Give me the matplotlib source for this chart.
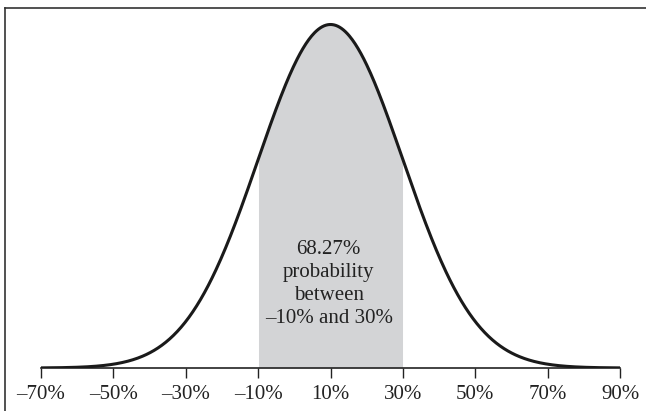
"""Normal distribution of returns with the one-sigma band shaded."""
import math

import matplotlib.pyplot as plt
from matplotlib.lines import Line2D
import numpy as np

# distribution
mean = 10.0
sd = 20.0
band_low = -10.0
band_high = 30.0
band_text = "68.27%\nprobability\nbetween\n\u201310% and 30%"
tick_values = [-70, -50, -30, -10, 10, 30, 50, 70, 90]
tick_labels = ["\u201370%", "\u201350%", "\u201330%", "\u201310%", "10%",
               "30%", "50%", "70%", "90%"]

plt.rcParams["font.family"] = ["Liberation Serif", "DejaVu Serif"]

W, H = 646, 411
fig = plt.figure(figsize=(W / 100, H / 100), dpi=100)

left_px, right_px = 41, 620
base_px, top_px, peak_px = 368, 14, 24.5
ax = fig.add_axes([left_px / W, (H - base_px) / H,
                   (right_px - left_px) / W, (base_px - top_px) / H])

x = np.linspace(tick_values[0], tick_values[-1], 600)
pdf = np.exp(-0.5 * ((x - mean) / sd) ** 2) / (sd * math.sqrt(2 * math.pi))
peak = pdf.max()

mask = (x >= band_low) & (x <= band_high)
ax.fill_between(x[mask], 0, pdf[mask], color="#d3d4d6", lw=0, zorder=1)
ax.plot(x, pdf, color="#1a1a1a", lw=2.2, solid_capstyle="butt", zorder=3)

ax.text(mean - 0.5, peak * 0.245, band_text, ha="center", va="center",
        fontsize=15, color="#222222", linespacing=1.28)

ax.set_xlim(tick_values[0], tick_values[-1])
ax.set_ylim(0, peak * (base_px - top_px) / (base_px - peak_px))
ax.set_xticks(tick_values)
ax.set_xticklabels(tick_labels, fontsize=15, color="#222222")
ax.set_yticks([])
ax.tick_params(axis="x", direction="out", length=7, width=1,
               color="#222222", pad=5)
for side in ["left", "right", "top"]:
    ax.spines[side].set_visible(False)
ax.spines["bottom"].set_color("#222222")
ax.spines["bottom"].set_linewidth(1.2)

# frame lines at the left and top of the figure
fig.add_artist(Line2D([5 / W, 5 / W], [0, 1 - 8 / H], color="#333333",
                      lw=1.2, transform=fig.transFigure))
fig.add_artist(Line2D([5 / W, 1], [1 - 8 / H, 1 - 8 / H], color="#333333",
                      lw=1.2, transform=fig.transFigure))

fig.savefig("out.png", dpi=100)
